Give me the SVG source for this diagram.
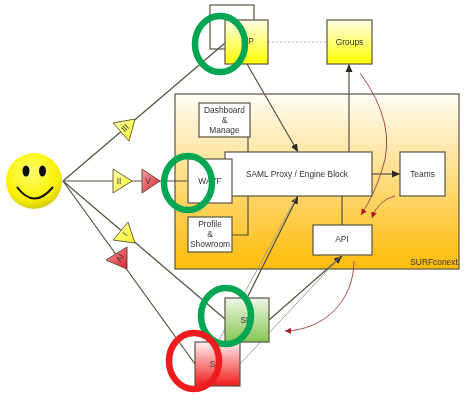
<svg xmlns="http://www.w3.org/2000/svg" width="471" height="400" viewBox="0 0 471 400">
<style>
text{font-family:"Liberation Sans",Arial,sans-serif;font-size:8.400px;fill:#333;text-anchor:middle}
.b{stroke:#5a5440;stroke-width:1.200}
.w{fill:#fff}
.l{fill:none;stroke:#55503f;stroke-width:1.200}
.t{fill:none;stroke:#9a9a90;stroke-width:.9}
.c{fill:none;stroke:#a05050;stroke-width:1}
.g{fill:none;stroke:#00a651;stroke-width:6.500}
.r{fill:none;stroke:#ee1c1c;stroke-width:6.500}
.y{fill:url(#ty);stroke:#6b6640;stroke-width:1}
.e{fill:url(#tr);stroke:#6b4a40;stroke-width:1}
</style>
<defs>
<linearGradient id="yel" x1="0" y1="0" x2="0" y2="1"><stop offset="0" stop-color="#fffde8"/><stop offset="1" stop-color="#ffff00"/></linearGradient>
<linearGradient id="ora" x1="0" y1="0" x2="0" y2="1"><stop offset="0" stop-color="#fffdf6"/><stop offset=".85" stop-color="#fdc42a"/><stop offset="1" stop-color="#fdbd0c"/></linearGradient>
<linearGradient id="grn" x1="0" y1="0" x2="0" y2="1"><stop offset="0" stop-color="#eef6e6"/><stop offset="1" stop-color="#86c653"/></linearGradient>
<linearGradient id="red" x1="0" y1="0" x2="0" y2="1"><stop offset="0" stop-color="#fff0f0"/><stop offset="1" stop-color="#f01c1c"/></linearGradient>
<linearGradient id="ty" x1="0" y1="0" x2="1" y2="1"><stop offset="0" stop-color="#ffffb0"/><stop offset="1" stop-color="#f8f020"/></linearGradient>
<linearGradient id="tr" x1="0" y1="0" x2="1" y2="1"><stop offset="0" stop-color="#f8a0a0"/><stop offset="1" stop-color="#d82030"/></linearGradient>
<radialGradient id="sm" cx=".45" cy=".35" r=".7"><stop offset="0" stop-color="#ffff70"/><stop offset=".7" stop-color="#fbf000"/><stop offset="1" stop-color="#c8c020"/></radialGradient>
<marker id="a" markerWidth="9" markerHeight="8" refX="8" refY="4" orient="auto" markerUnits="userSpaceOnUse"><path d="M0 .5L8 4L0 7.500Z" fill="#2e2a20"/></marker>
<marker id="m" markerWidth="8" markerHeight="8" refX="6" refY="3" orient="auto" markerUnits="userSpaceOnUse"><path d="M0 0L6 3L0 6Z" fill="#b01828"/></marker>
<filter id="soft" x="-2%" y="-2%" width="104%" height="104%"><feGaussianBlur stdDeviation=".45"/></filter>
</defs>
<g filter="url(#soft)">
<g id="surfconext"><rect x="175" y="94" width="284" height="175" fill="url(#ora)" class="b"/><text x="434" y="265">SURFconext</text></g>
<g id="idp-back"><rect x="210" y="5" width="44" height="44" class="w b"/></g>
<g id="connectors">
<path class="l" d="M63 181L225 43"/>
<path class="l" d="M63 181H188"/>
<path class="l" d="M63 181L225 319"/>
<path class="l" d="M63 181L195 364"/>
<path class="t" d="M268 42H327" stroke-dasharray="1.500 2.500"/>
<path class="l" d="M247 64L298 152" marker-end="url(#a)"/>
<path class="l" d="M349 152V64" marker-end="url(#a)"/>
<path class="l" d="M372 174H400" marker-end="url(#a)"/>
<path class="l" d="M342 196V225"/>
<path class="l" d="M248 137V152M232 235H248V196"/>
<path class="l" d="M247 298L298 196" marker-end="url(#a)"/>
<path class="t" d="M218 342L296 198"/>
<path class="l" d="M269 320L342 256" marker-end="url(#a)"/>
<path class="t" d="M240 364L340 257"/>
<path class="c" d="M360 73Q398 125 382 170Q374 195 361 215" marker-end="url(#m)"/>
<path class="c" d="M395 196Q378 200 372 218" marker-end="url(#m)"/>
<path class="c" d="M354 261C354 300 325 330 285 331" marker-end="url(#m)"/>
</g>
<g id="smiley"><circle cx="34" cy="181" r="28" fill="url(#sm)"/><ellipse cx="26" cy="171" rx="3.500" ry="5.500" fill="#111"/><ellipse cx="42.500" cy="171" rx="3.500" ry="5.500" fill="#111"/><path d="M17 187Q34 210 53 187" fill="none" stroke="#111" stroke-width="2"/></g>
<g id="tri-iii"><polygon class="y" points="113,123 135,119 129,141"/><text x="125" y="131" transform="rotate(-45 125 128)">III</text></g>
<g id="tri-ii"><polygon class="y" points="113,169 132,181 113,193"/><text x="119" y="184">II</text></g>
<g id="tri-v"><polygon class="e" points="142,169 160,181 142,193"/><text x="148" y="184">V</text></g>
<g id="tri-i"><polygon class="y" points="113,240 128,222 135,243"/><text x="125" y="237" transform="rotate(-55 125 234)">I</text></g>
<g id="tri-iv"><polygon class="e" points="127,247 106,260 127,269"/><text x="120" y="261" transform="rotate(115 120 258)">IV</text></g>
<g id="dashboard"><rect x="199" y="103" width="51" height="34" class="w b"/><text x="224.500" y="113">Dashboard</text><text x="224.500" y="123">&amp;</text><text x="224.500" y="133">Manage</text></g>
<g id="saml"><rect x="225" y="152" width="147" height="44" class="w b"/><text x="297" y="177">SAML Proxy / Engine Block</text></g>
<g id="wayf"><rect x="188" y="159" width="44" height="44" class="w b"/><text x="210" y="184">WAYF</text></g>
<g id="profile"><rect x="188" y="217" width="44" height="35" class="w b"/><text x="210" y="227">Profile</text><text x="210" y="237">&amp;</text><text x="210" y="247">Showroom</text></g>
<g id="teams"><rect x="400" y="152" width="45" height="44" class="w b"/><text x="422.500" y="177">Teams</text></g>
<g id="api"><rect x="313" y="225" width="59" height="30" class="w b"/><text x="342" y="242">API</text></g>
<g id="idp"><rect x="225" y="20" width="43" height="44" fill="url(#yel)" class="b"/><text x="247.500" y="44">IdP</text></g>
<g id="groups"><rect x="327" y="20" width="45" height="44" fill="url(#yel)" class="b"/><text x="349.500" y="45">Groups</text></g>
<g id="sp"><rect x="225" y="298" width="44" height="44" fill="url(#grn)" class="b"/><text x="246" y="323">SP</text></g>
<g id="s"><rect x="195" y="342" width="45" height="44" fill="url(#red)" class="b"/><text x="212.500" y="367">S</text></g>
<g id="rings"><ellipse class="g" cx="220" cy="44" rx="25" ry="28"/><ellipse class="g" cx="188" cy="183" rx="24" ry="27"/><ellipse class="g" cx="226" cy="316" rx="25" ry="28"/><ellipse class="r" cx="194" cy="361" rx="25" ry="28"/></g>
</g>
</svg>
